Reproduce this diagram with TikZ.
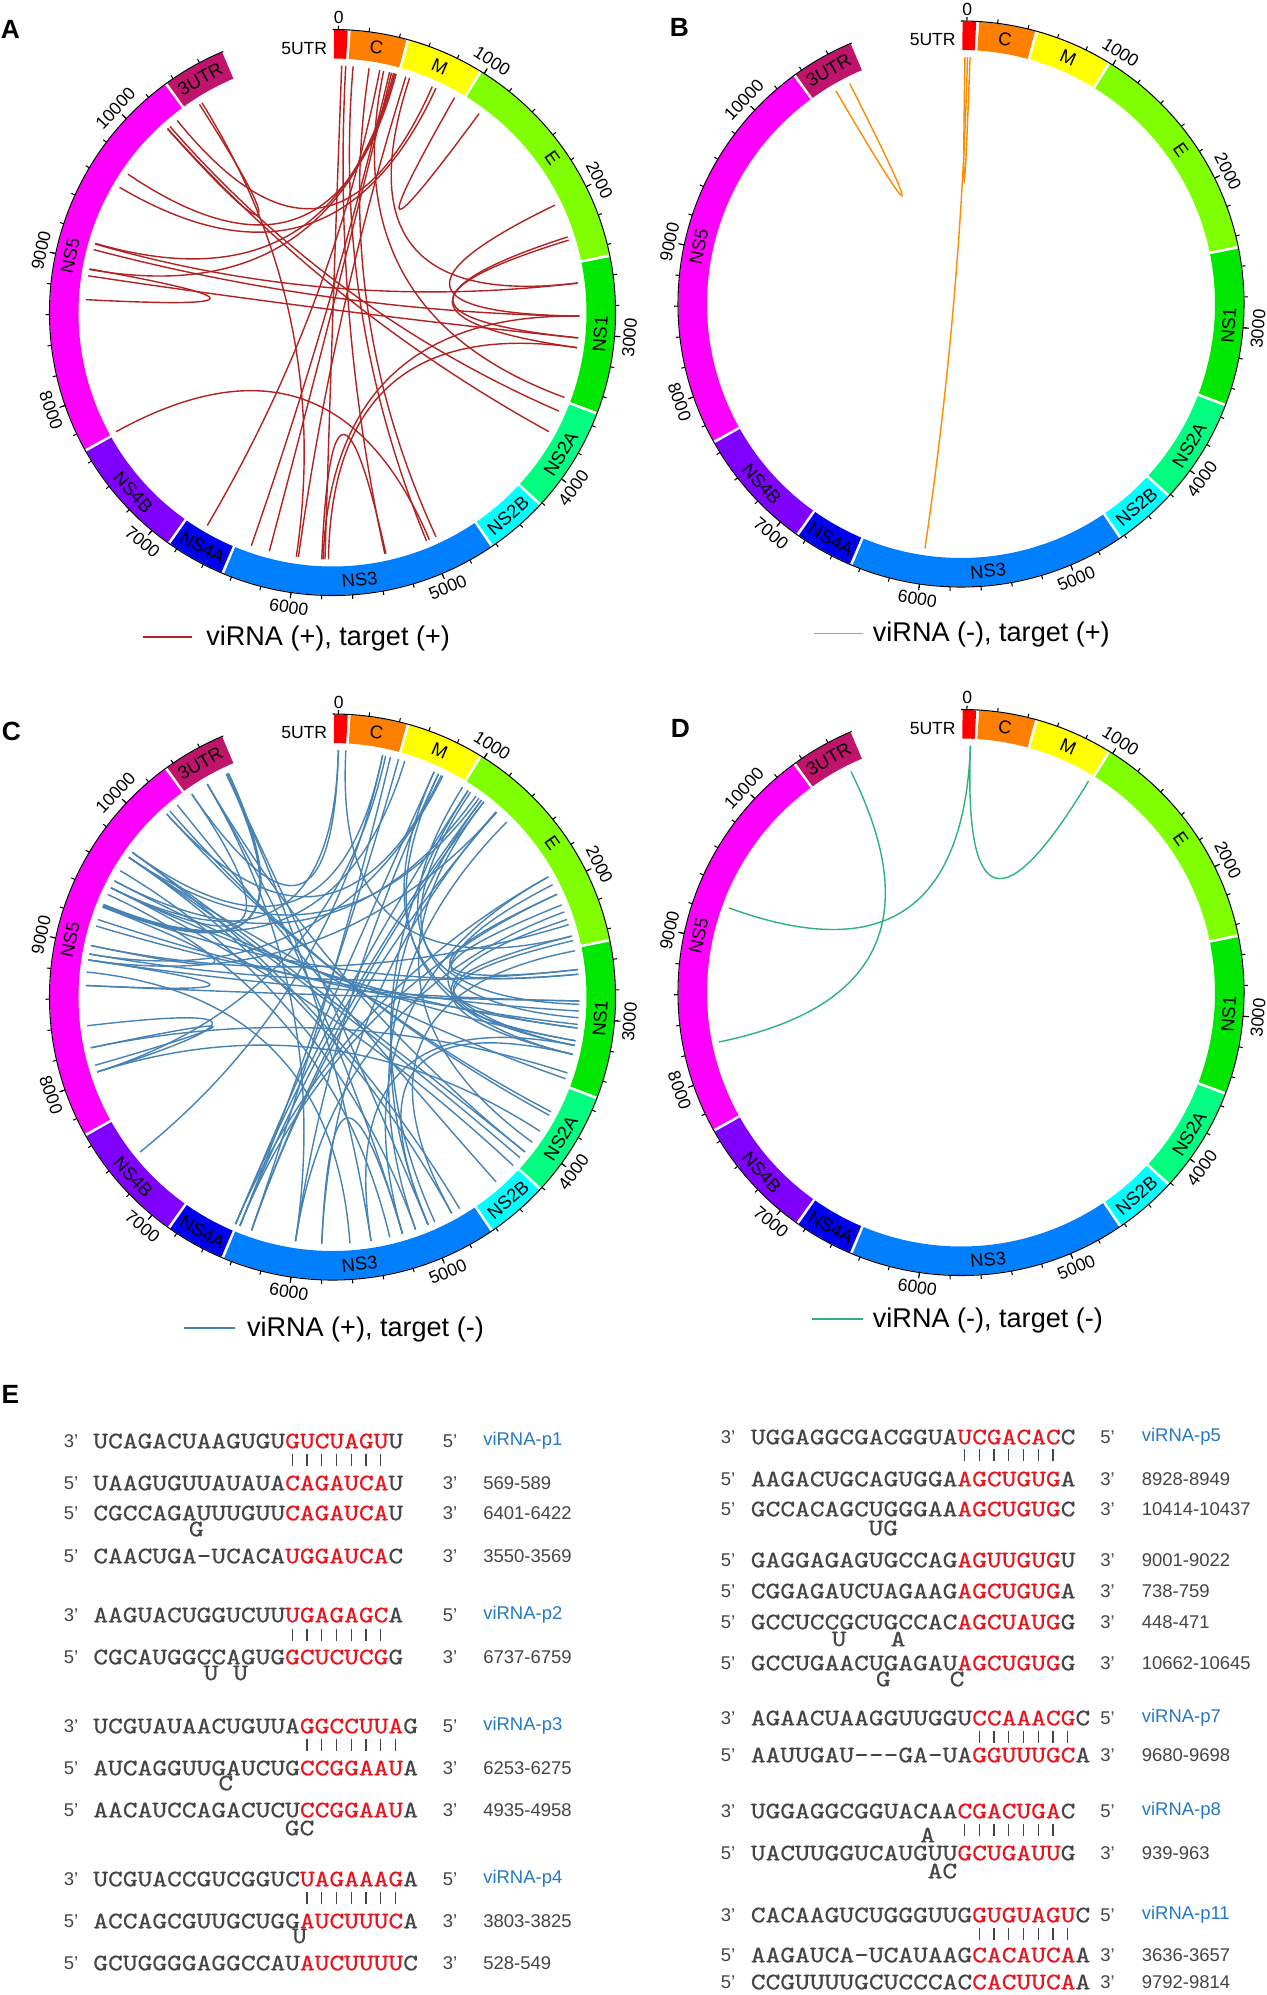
\documentclass[tikz,border=0pt]{standalone}
\usepackage{fontspec}
\setmainfont{Liberation Sans}
\newfontfamily\seqfont{lmmono10-regular.otf}[FakeStretch=1.185, FakeBold=0.6]
\usepackage{tikz}
\usepackage{xcolor}
\usetikzlibrary{calc}
\definecolor{colutrfive}{HTML}{FF0000}
\definecolor{colC}{HTML}{FF8000}
\definecolor{colM}{HTML}{FFFF00}
\definecolor{colE}{HTML}{80FF00}
\definecolor{colNSone}{HTML}{00E800}
\definecolor{colNStwoA}{HTML}{00FF80}
\definecolor{colNStwoB}{HTML}{00FFFF}
\definecolor{colNSthree}{HTML}{0080FF}
\definecolor{colNSfourA}{HTML}{0000F0}
\definecolor{colNSfourB}{HTML}{8000FF}
\definecolor{colNSfive}{HTML}{FF00FF}
\definecolor{colutrthree}{HTML}{C0136B}
\definecolor{chordred}{HTML}{B22222}
\definecolor{chordorange}{HTML}{FF8C00}
\definecolor{chordblue}{HTML}{4682B4}
\definecolor{chordgreen}{HTML}{2DB37A}
\definecolor{seqgray}{HTML}{444444}
\definecolor{seqred}{HTML}{E8141E}
\definecolor{virnablue}{HTML}{2479C2}
\newcommand{\sred}[1]{\textcolor{seqred}{#1}}
\newcommand{\virna}[1]{\textcolor{virnablue}{#1}}
\tikzset{
  chordpp/.style={draw=chordred, line width=0.8pt},
  chordmp/.style={draw=chordorange, line width=0.8pt},
  chordpm/.style={draw=chordblue, line width=0.8pt},
  chordmm/.style={draw=chordgreen, line width=0.8pt},
  axisline/.style={draw=black, line width=0.6pt},
  seglabel/.style={font=\fontsize{10.5}{12}\selectfont, inner sep=0pt},
  ticklabel/.style={font=\fontsize{10}{12}\selectfont, inner sep=0pt},
  utrlabel/.style={font=\fontsize{10}{12}\selectfont, inner sep=0pt},
  legtext/.style={font=\fontsize{15.4}{18}\selectfont, inner sep=0pt, anchor=base west},
  panellabel/.style={font=\fontsize{15}{18}\selectfont\bfseries, inner sep=0pt},
  seqtext/.style={font=\fontsize{13.5}{14}\seqfont, text=seqgray, inner sep=0pt, anchor=west},
  bulge/.style={font=\fontsize{13.5}{14}\seqfont, text=seqgray, inner sep=0pt},
  primetext/.style={font=\fontsize{10.5}{12}\selectfont, text=seqgray, inner sep=0pt},
  idtext/.style={font=\fontsize{10.5}{12}\selectfont, text=seqgray, inner sep=0pt, anchor=west},
  pairbar/.style={draw=seqgray, line width=0.7pt}
}
\newcommand{\genomering}{%
  \foreach \sgs/\sge/\sgc/\sgn in {-38/70/colutrfive/{},70/458/colC/C,458/974/colM/M,974/2474/colE/E,2474/3516/colNSone/NS1,3516/4215/colNStwoA/NS2A,4215/4631/colNStwoB/NS2B,4631/6462/colNSthree/NS3,6462/6862/colNSfourA/NS4A,6862/7679/colNSfourB/NS4B,7679/10343/colNSfive/NS5,10343/10772/colutrthree/3UTR}{%
    \pgfmathsetmacro{\angA}{1.2+0.0312*(\sgs)-89.7}%
    \pgfmathsetmacro{\angB}{1.2+0.0312*(\sge)-90.3}%
    \fill[\sgc] (\angA:254) arc[start angle=\angA, end angle=\angB, radius=254] -- (\angB:282.5) arc[start angle=\angB, end angle=\angA, radius=282.5] -- cycle;%
    \pgfmathsetmacro{\angM}{1.2+0.0156*(\sgs)+0.0156*(\sge)}%
    \pgfmathsetmacro{\angR}{ifthenelse(\angM>90 && \angM<270,180-\angM,-\angM)}%
    \node[seglabel, rotate=\angR] at (\angM-90:268.5) {\sgn};%
  }%
  \draw[axisline] (-90:283) arc[start angle=-90, end angle=247.3, radius=283];%
  \foreach \tk in {0,200,...,10600}{%
    \pgfmathsetmacro{\angT}{1.2+0.0312*\tk-90}%
    \draw[axisline] (\angT:283) -- (\angT:287);%
  }%
  \foreach \tk in {1000,2000,...,10000}{%
    \pgfmathsetmacro{\angM}{1.2+0.0312*\tk}%
    \pgfmathsetmacro{\angR}{ifthenelse(\angM>90 && \angM<270,180-\angM,-\angM)}%
    \draw[axisline] (\angM-90:283) -- (\angM-90:289);%
    \node[ticklabel, rotate=\angR] at (\angM-90:298) {\tk};%
  }%
  \node[ticklabel] at (-88.8:295) {0};%
  \node[utrlabel, anchor=east] at (-5,-264) {5UTR};%
}
\newcommand{\chord}[3]{%
  \pgfmathsetmacro{\cha}{1.2+0.0312*(#2)-90}%
  \pgfmathsetmacro{\chb}{1.2+0.0312*(#3)-90}%
  \draw[#1] (\cha:247) .. controls (\cha:82.3) and (\chb:82.3) .. (\chb:247);%
}
\newcommand{\rowL}[5]{%
  \node[primetext] (lpL#1) at (71,#1) {#2};
  \node[seqtext] (sqL#1) at (93,#1) {#3};
  \node[primetext] (rpL#1) at (450,#1) {#4};
  \node[idtext] (idL#1) at (483,#1) {#5};
}
\newcommand{\rowR}[5]{%
  \node[primetext] (lpR#1) at (728,#1) {#2};
  \node[seqtext] (sqR#1) at (750.5,#1) {#3};
  \node[primetext] (rpR#1) at (1107.5,#1) {#4};
  \node[idtext] (idR#1) at (1141.5,#1) {#5};
}
\newcommand{\pairbars}[4]{%
  \foreach \i in {#2,...,#3} \draw[pairbar] (#1+\i*14.76+7.38,#4-6) -- ++(0,12);
}

\begin{document}
\begin{tikzpicture}[x=0.02cm, y=-0.02cm]
\useasboundingbox (0,0) rectangle (1267,1995);

\node[panellabel] (labA) at (10.5,29.5) {A};
\begin{scope}[shift={(332.5,312.5)}]
\genomering
\foreach \va/\vb in {30/5786,60/5338,115/5013,235/4936,315/6706,345/3490,390/6345,405/6205,420/9135,430/8936,440/9706,515/5984,545/2626,725/10250,755/9590,910/1128,10476/6000,10154/10454,10157/3770,10180/3600,8710/8940,9130/2626,8888/3035,9087/2873,7690/4990,2020/2873,2275/3108,2300/3035,5800/2873,5760/3108,5810/5330}{\chord{chordpp}{\va}{\vb}}
\end{scope}
\coordinate (kA) at (143,637);
\draw[chordpp] (kA) -- ++(49,0);
\node[legtext] (legA) at (206,645.5) {viRNA (+), target (+)};

\node[panellabel] (labB) at (679.3,27.4) {B};
\begin{scope}[shift={(961,304)}]
\genomering
\foreach \va/\vb in {10524/10640,-9/29,10/5999}{\chord{chordmp}{\va}{\vb}}
\end{scope}
\coordinate (kB) at (814,633);
\draw[chordmp, line width=0.5pt] (kB) -- ++(48.5,0);
\node[legtext] (legB) at (872.6,641.5) {viRNA (-), target (+)};

\node[panellabel] (labC) at (11.3,731) {C};
\begin{scope}[shift={(332.5,997)}]
\genomering
\foreach \va/\vb in {5/9455,61/2388,337/9763,397/6343,459/6436,507/9311,740/6471,776/6006,811/8936,1029/6471,1128/9718,1151/6436,1173/6343,1295/8891,1290/5810,1100/9513,800/10147,360/8048,5/10385,1913/5202,2058/2641,2144/2676,2388/3077,2423/3173,1980/3208,2260/3276,2300/9000,2641/8936,2676/9311,2875/8891,2875/8700,3077/9455,3173/9513,3208/5442,3276/5000,3465/9718,3420/8234,2500/4805,2200/6006,3734/10147,3763/10179,4090/9763,4147/9718,4224/9455,3900/8048,4000/1173,4737/9763,4805/9718,4946/1029,5000/1151,5202/10522,5442/10683,6006/10522,6343/1295,6436/2058,6471/1913,5810/5202,7369/337,8234/8100,8048/8400,8891/8700,9000/9300,10385/9455,10522/4090,10683/5000,10700/9311,10683/9320,10690/9300,740/3208,776/3276,980/2900,1050/3000,9200/3050,9150/2950,9400/5300,9600/5100,10250/4400,8800/5600,1400/5100}{\chord{chordpm}{\va}{\vb}}
\end{scope}
\coordinate (kC) at (184,1328);
\draw[chordpm] (kC) -- ++(50.5,0);
\node[legtext] (legC) at (246.7,1336.5) {viRNA (+), target (-)};

\node[panellabel] (labD) at (680.5,728) {D};
\begin{scope}[shift={(961,992.5)}]
\genomering
\foreach \va/\vb in {32/958,32/9256,10650/8244}{\chord{chordmm}{\va}{\vb}}
\end{scope}
\coordinate (kD) at (812,1319);
\draw[chordmm] (kD) -- ++(50.5,0);
\node[legtext] (legD) at (872.6,1327.5) {viRNA (-), target (-)};

\node[panellabel] (labE) at (10.5,1394) {E};

\rowL{1441}{3’}{UCAGACUAAGUGU\sred{GUCUAGU}U}{5’}{\virna{viRNA-p1}}
\pairbars{93}{13}{19}{1460}
\rowL{1483}{5’}{UAAGUGUUAUAUA\sred{CAGAUCA}U}{3’}{569-589}
\rowL{1513}{5’}{CGCCAGAUUUGUU\sred{CAGAUCA}U}{3’}{6401-6422}
\node[bulge] (bL1) at (196.3,1529) {G};
\rowL{1556}{5’}{CAACUGA{-}UCACA\sred{UGGAUCA}C}{3’}{3550-3569}

\rowL{1615}{3’}{AAGUACUGGUCUU\sred{UGAGAGC}A}{5’}{\virna{viRNA-p2}}
\pairbars{93}{13}{19}{1635}
\rowL{1657}{5’}{CGCAUGGCCAGUG\sred{GCUCUCG}G}{3’}{6737-6759}
\node[bulge] (bL2) at (211.1,1673) {U};
\node[bulge] (bL3) at (240.6,1673) {U};

\rowL{1726}{3’}{UCGUAUAACUGUUA\sred{GGCCUUA}G}{5’}{\virna{viRNA-p3}}
\pairbars{93}{14}{20}{1745}
\rowL{1768}{5’}{AUCAGGUUGAUCUG\sred{CCGGAAU}A}{3’}{6253-6275}
\node[bulge] (bL4) at (225.8,1783) {C};
\rowL{1810}{5’}{AACAUCCAGACUCU\sred{CCGGAAU}A}{3’}{4935-4958}
\node[bulge] (bL5) at (299.6,1828) {GC};

\rowL{1879}{3’}{UCGUACCGUCGGUC\sred{UAGAAAG}A}{5’}{\virna{viRNA-p4}}
\pairbars{93}{14}{20}{1898}
\rowL{1921}{5’}{ACCAGCGUUGCUGG\sred{AUCUUUC}A}{3’}{3803-3825}
\node[bulge] (bL6) at (299.6,1936) {U};
\rowL{1963}{5’}{GCUGGGGAGGCCAU\sred{AUCUUUU}C}{3’}{528-549}

\rowR{1437}{3’}{UGGAGGCGACGGUA\sred{UCGACAC}C}{5’}{\virna{viRNA-p5}}
\pairbars{750.5}{14}{20}{1455}
\rowR{1479}{5’}{AAGACUGCAGUGGA\sred{AGCUGUG}A}{3’}{8928-8949}
\rowR{1509}{5’}{GCCACAGCUGGGAA\sred{AGCUGUG}C}{3’}{10414-10437}
\node[bulge] (bR1) at (883.3,1528) {UG};
\rowR{1560}{5’}{GAGGAGAGUGCCAG\sred{AGUUGUG}U}{3’}{9001-9022}
\rowR{1591}{5’}{CGGAGAUCUAGAAG\sred{AGCUGUG}A}{3’}{738-759}
\rowR{1622}{5’}{GCCUCCGCUGCCAC\sred{AGCUAUG}G}{3’}{448-471}
\node[bulge] (bR2) at (839.1,1639) {U};
\node[bulge] (bR3) at (898.1,1639) {A};
\rowR{1663}{5’}{GCCUGAACUGAGAU\sred{AGCUGUG}G}{3’}{10662-10645}
\node[bulge] (bR4) at (883.3,1679) {G};
\node[bulge] (bR5) at (957.1,1679) {C};

\rowR{1718}{3’}{AGAACUAAGGUUGGU\sred{CCAAACG}C}{5’}{\virna{viRNA-p7}}
\pairbars{750.5}{15}{21}{1737}
\rowR{1755}{5’}{AAUUGAU{-}{-}{-}GA{-}UA\sred{GGUUUGC}A}{3’}{9680-9698}

\rowR{1811}{3’}{UGGAGGCGGUACAA\sred{CGACUGA}C}{5’}{\virna{viRNA-p8}}
\node[bulge] (bR6) at (927.6,1835) {A};
\pairbars{750.5}{14}{20}{1830}
\rowR{1853}{5’}{UACUUGGUCAUGUU\sred{GCUGAUU}G}{3’}{939-963}
\node[bulge] (bR7) at (942.4,1871) {AC};

\rowR{1915}{3’}{CACAAGUCUGGGUUG\sred{GUGUAGU}C}{5’}{\virna{viRNA-p11}}
\pairbars{750.5}{15}{21}{1934}
\rowR{1955}{5’}{AAGAUCA{-}UCAUAAG\sred{CACAUCA}A}{3’}{3636-3657}
\rowR{1982}{5’}{CCGUUUUGCUCCCAC\sred{CACUUCA}A}{3’}{9792-9814}
\end{tikzpicture}
\end{document}
